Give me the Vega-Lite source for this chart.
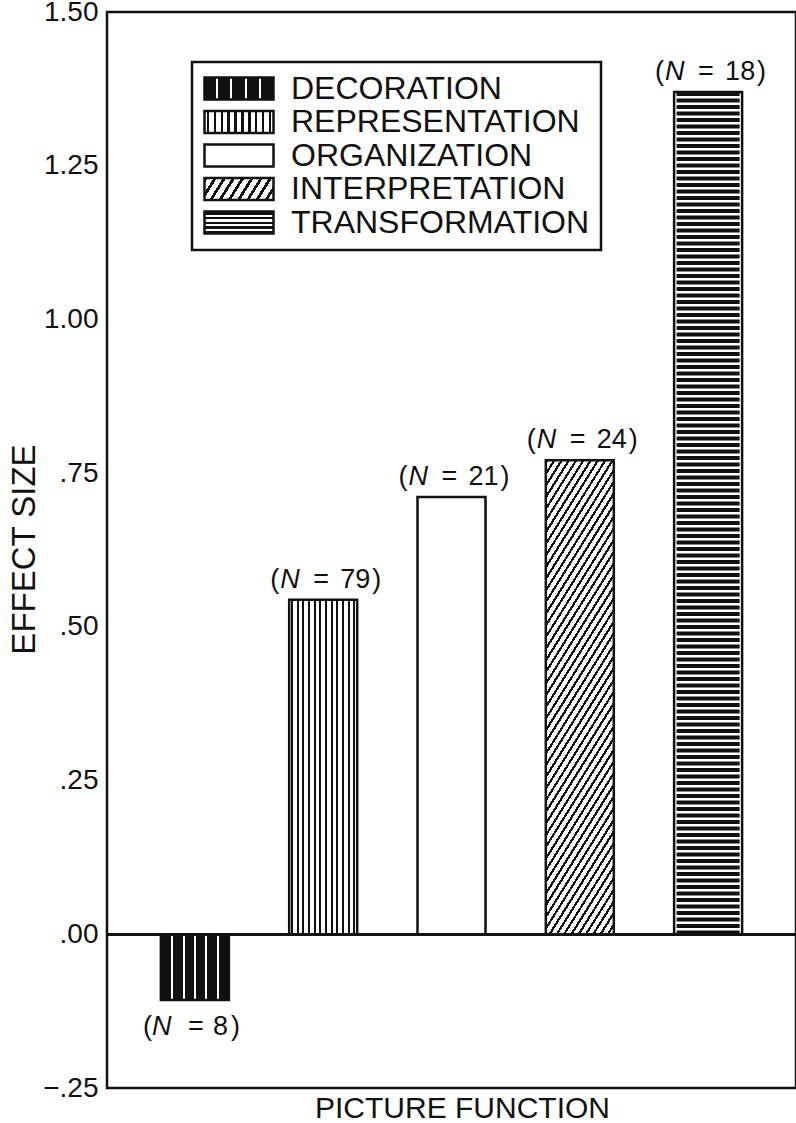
{
  "$schema": "https://vega.github.io/schema/vega-lite/v6.json",
  "width": 689,
  "height": 1076,
  "autosize": {"type": "none"},
  "padding": {"left": 107, "top": 12, "right": 0, "bottom": 35},
  "background": "white",
  "config": {"view": {"stroke": "#111", "strokeWidth": 2.5}, "font": "Liberation Sans", "legend": {"strokeWidth": 2.5}},
  "data": {"values": [
    {"function": "DECORATION", "effect": -0.107, "n": 8},
    {"function": "REPRESENTATION", "effect": 0.544, "n": 79},
    {"function": "ORGANIZATION", "effect": 0.711, "n": 21},
    {"function": "INTERPRETATION", "effect": 0.771, "n": 24},
    {"function": "TRANSFORMATION", "effect": 1.37, "n": 18}
  ]},
  "layer": [
    {
      "encoding": {
        "x": {"field": "function", "type": "nominal",
          "scale": {"domain": ["DECORATION", "REPRESENTATION", "ORGANIZATION", "INTERPRETATION", "TRANSFORMATION"], "paddingInner": 0.47, "paddingOuter": 0.42},
          "axis": {"labels": false, "ticks": false, "domain": false, "title": "PICTURE FUNCTION", "titleFont": "Liberation Sans", "titleFontSize": 30, "titleFontWeight": "normal", "titleColor": "#111", "titlePadding": 5, "titleX": 355}},
        "y": {"field": "effect", "type": "quantitative",
          "scale": {"domain": [-0.25, 1.5], "nice": false, "zero": false},
          "axis": {"values": [-0.25, 0, 0.25, 0.5, 0.75, 1, 1.25, 1.5], "labelExpr": "datum.value >= 1 ? format(datum.value, '.2f') : replace(format(datum.value, '.2f'), '0.', '.')", "ticks": false, "domain": false, "grid": false, "labelPadding": 9, "labelFont": "Liberation Sans", "labelFontSize": 28, "labelColor": "#111", "labelFlush": false, "labelOverlap": false, "title": "EFFECT SIZE", "titleFont": "Liberation Sans", "titleFontSize": 33, "titleFontWeight": "normal", "titleColor": "#111", "titleAngle": -90, "titleX": -83, "titleY": 537, "titleAlign": "center", "titleBaseline": "middle"}}
      },
      "layer": [
        {"transform": [{"filter": "datum.function === 'DECORATION'"}],
         "mark": {"type": "bar", "stroke": "#111", "strokeWidth": 2.5, "fill": {"gradient": "linear", "x1": 0, "y1": 0, "x2": 1, "y2": 0, "stops": [
          {"offset": 0, "color": "#111"}, {"offset": 0.15, "color": "#111"}, {"offset": 0.15, "color": "#fff"}, {"offset": 0.18, "color": "#fff"}, {"offset": 0.18, "color": "#111"},
          {"offset": 0.32, "color": "#111"}, {"offset": 0.32, "color": "#fff"}, {"offset": 0.35, "color": "#fff"}, {"offset": 0.35, "color": "#111"},
          {"offset": 0.485, "color": "#111"}, {"offset": 0.485, "color": "#fff"}, {"offset": 0.515, "color": "#fff"}, {"offset": 0.515, "color": "#111"},
          {"offset": 0.65, "color": "#111"}, {"offset": 0.65, "color": "#fff"}, {"offset": 0.68, "color": "#fff"}, {"offset": 0.68, "color": "#111"},
          {"offset": 0.82, "color": "#111"}, {"offset": 0.82, "color": "#fff"}, {"offset": 0.85, "color": "#fff"}, {"offset": 0.85, "color": "#111"},
          {"offset": 1, "color": "#111"}]}}},
        {"transform": [{"filter": "datum.function === 'REPRESENTATION'"}],
         "mark": {"type": "bar", "stroke": "#111", "strokeWidth": 2.5, "fill": {"gradient": "linear", "x1": 0, "y1": 0, "x2": 1, "y2": 0, "stops": [
          {"offset": 0, "color": "#fff"},
          {"offset": 0.027, "color": "#fff"}, {"offset": 0.027, "color": "#111"}, {"offset": 0.057, "color": "#111"}, {"offset": 0.057, "color": "#fff"},
          {"offset": 0.11, "color": "#fff"}, {"offset": 0.11, "color": "#111"}, {"offset": 0.14, "color": "#111"}, {"offset": 0.14, "color": "#fff"},
          {"offset": 0.193, "color": "#fff"}, {"offset": 0.193, "color": "#111"}, {"offset": 0.223, "color": "#111"}, {"offset": 0.223, "color": "#fff"},
          {"offset": 0.277, "color": "#fff"}, {"offset": 0.277, "color": "#111"}, {"offset": 0.307, "color": "#111"}, {"offset": 0.307, "color": "#fff"},
          {"offset": 0.36, "color": "#fff"}, {"offset": 0.36, "color": "#111"}, {"offset": 0.39, "color": "#111"}, {"offset": 0.39, "color": "#fff"},
          {"offset": 0.443, "color": "#fff"}, {"offset": 0.443, "color": "#111"}, {"offset": 0.473, "color": "#111"}, {"offset": 0.473, "color": "#fff"},
          {"offset": 0.527, "color": "#fff"}, {"offset": 0.527, "color": "#111"}, {"offset": 0.557, "color": "#111"}, {"offset": 0.557, "color": "#fff"},
          {"offset": 0.61, "color": "#fff"}, {"offset": 0.61, "color": "#111"}, {"offset": 0.64, "color": "#111"}, {"offset": 0.64, "color": "#fff"},
          {"offset": 0.693, "color": "#fff"}, {"offset": 0.693, "color": "#111"}, {"offset": 0.723, "color": "#111"}, {"offset": 0.723, "color": "#fff"},
          {"offset": 0.777, "color": "#fff"}, {"offset": 0.777, "color": "#111"}, {"offset": 0.807, "color": "#111"}, {"offset": 0.807, "color": "#fff"},
          {"offset": 0.86, "color": "#fff"}, {"offset": 0.86, "color": "#111"}, {"offset": 0.89, "color": "#111"}, {"offset": 0.89, "color": "#fff"},
          {"offset": 0.943, "color": "#fff"}, {"offset": 0.943, "color": "#111"}, {"offset": 0.973, "color": "#111"}, {"offset": 0.973, "color": "#fff"},
          {"offset": 1, "color": "#fff"}]}}},
        {"transform": [{"filter": "datum.function === 'ORGANIZATION'"}],
         "mark": {"type": "bar", "stroke": "#111", "strokeWidth": 2.5, "fill": "white"}},
        {"transform": [{"filter": "datum.function === 'INTERPRETATION'"}],
         "mark": {"type": "bar", "stroke": "#111", "strokeWidth": 2.5, "fill": {"gradient": "linear", "x1": 0, "y1": 0, "x2": 0.268, "y2": 1.168, "stops": [
          {"offset": 0, "color": "#111"}, {"offset": 0.007, "color": "#111"}, {"offset": 0.007, "color": "#fff"}, {"offset": 0.02, "color": "#fff"},
          {"offset": 0.02, "color": "#111"}, {"offset": 0.027, "color": "#111"}, {"offset": 0.027, "color": "#fff"}, {"offset": 0.04, "color": "#fff"},
          {"offset": 0.04, "color": "#111"}, {"offset": 0.047, "color": "#111"}, {"offset": 0.047, "color": "#fff"}, {"offset": 0.06, "color": "#fff"},
          {"offset": 0.06, "color": "#111"}, {"offset": 0.067, "color": "#111"}, {"offset": 0.067, "color": "#fff"}, {"offset": 0.08, "color": "#fff"},
          {"offset": 0.08, "color": "#111"}, {"offset": 0.087, "color": "#111"}, {"offset": 0.087, "color": "#fff"}, {"offset": 0.1, "color": "#fff"},
          {"offset": 0.1, "color": "#111"}, {"offset": 0.107, "color": "#111"}, {"offset": 0.107, "color": "#fff"}, {"offset": 0.12, "color": "#fff"},
          {"offset": 0.12, "color": "#111"}, {"offset": 0.127, "color": "#111"}, {"offset": 0.127, "color": "#fff"}, {"offset": 0.14, "color": "#fff"},
          {"offset": 0.14, "color": "#111"}, {"offset": 0.147, "color": "#111"}, {"offset": 0.147, "color": "#fff"}, {"offset": 0.16, "color": "#fff"},
          {"offset": 0.16, "color": "#111"}, {"offset": 0.167, "color": "#111"}, {"offset": 0.167, "color": "#fff"}, {"offset": 0.18, "color": "#fff"},
          {"offset": 0.18, "color": "#111"}, {"offset": 0.187, "color": "#111"}, {"offset": 0.187, "color": "#fff"}, {"offset": 0.2, "color": "#fff"},
          {"offset": 0.2, "color": "#111"}, {"offset": 0.207, "color": "#111"}, {"offset": 0.207, "color": "#fff"}, {"offset": 0.22, "color": "#fff"},
          {"offset": 0.22, "color": "#111"}, {"offset": 0.227, "color": "#111"}, {"offset": 0.227, "color": "#fff"}, {"offset": 0.24, "color": "#fff"},
          {"offset": 0.24, "color": "#111"}, {"offset": 0.247, "color": "#111"}, {"offset": 0.247, "color": "#fff"}, {"offset": 0.26, "color": "#fff"},
          {"offset": 0.26, "color": "#111"}, {"offset": 0.267, "color": "#111"}, {"offset": 0.267, "color": "#fff"}, {"offset": 0.28, "color": "#fff"},
          {"offset": 0.28, "color": "#111"}, {"offset": 0.287, "color": "#111"}, {"offset": 0.287, "color": "#fff"}, {"offset": 0.3, "color": "#fff"},
          {"offset": 0.3, "color": "#111"}, {"offset": 0.307, "color": "#111"}, {"offset": 0.307, "color": "#fff"}, {"offset": 0.32, "color": "#fff"},
          {"offset": 0.32, "color": "#111"}, {"offset": 0.327, "color": "#111"}, {"offset": 0.327, "color": "#fff"}, {"offset": 0.34, "color": "#fff"},
          {"offset": 0.34, "color": "#111"}, {"offset": 0.347, "color": "#111"}, {"offset": 0.347, "color": "#fff"}, {"offset": 0.36, "color": "#fff"},
          {"offset": 0.36, "color": "#111"}, {"offset": 0.367, "color": "#111"}, {"offset": 0.367, "color": "#fff"}, {"offset": 0.38, "color": "#fff"},
          {"offset": 0.38, "color": "#111"}, {"offset": 0.387, "color": "#111"}, {"offset": 0.387, "color": "#fff"}, {"offset": 0.4, "color": "#fff"},
          {"offset": 0.4, "color": "#111"}, {"offset": 0.407, "color": "#111"}, {"offset": 0.407, "color": "#fff"}, {"offset": 0.42, "color": "#fff"},
          {"offset": 0.42, "color": "#111"}, {"offset": 0.427, "color": "#111"}, {"offset": 0.427, "color": "#fff"}, {"offset": 0.44, "color": "#fff"},
          {"offset": 0.44, "color": "#111"}, {"offset": 0.447, "color": "#111"}, {"offset": 0.447, "color": "#fff"}, {"offset": 0.46, "color": "#fff"},
          {"offset": 0.46, "color": "#111"}, {"offset": 0.467, "color": "#111"}, {"offset": 0.467, "color": "#fff"}, {"offset": 0.48, "color": "#fff"},
          {"offset": 0.48, "color": "#111"}, {"offset": 0.487, "color": "#111"}, {"offset": 0.487, "color": "#fff"}, {"offset": 0.5, "color": "#fff"},
          {"offset": 0.5, "color": "#111"}, {"offset": 0.507, "color": "#111"}, {"offset": 0.507, "color": "#fff"}, {"offset": 0.52, "color": "#fff"},
          {"offset": 0.52, "color": "#111"}, {"offset": 0.527, "color": "#111"}, {"offset": 0.527, "color": "#fff"}, {"offset": 0.54, "color": "#fff"},
          {"offset": 0.54, "color": "#111"}, {"offset": 0.547, "color": "#111"}, {"offset": 0.547, "color": "#fff"}, {"offset": 0.56, "color": "#fff"},
          {"offset": 0.56, "color": "#111"}, {"offset": 0.567, "color": "#111"}, {"offset": 0.567, "color": "#fff"}, {"offset": 0.58, "color": "#fff"},
          {"offset": 0.58, "color": "#111"}, {"offset": 0.587, "color": "#111"}, {"offset": 0.587, "color": "#fff"}, {"offset": 0.6, "color": "#fff"},
          {"offset": 0.6, "color": "#111"}, {"offset": 0.607, "color": "#111"}, {"offset": 0.607, "color": "#fff"}, {"offset": 0.62, "color": "#fff"},
          {"offset": 0.62, "color": "#111"}, {"offset": 0.627, "color": "#111"}, {"offset": 0.627, "color": "#fff"}, {"offset": 0.64, "color": "#fff"},
          {"offset": 0.64, "color": "#111"}, {"offset": 0.647, "color": "#111"}, {"offset": 0.647, "color": "#fff"}, {"offset": 0.66, "color": "#fff"},
          {"offset": 0.66, "color": "#111"}, {"offset": 0.667, "color": "#111"}, {"offset": 0.667, "color": "#fff"}, {"offset": 0.68, "color": "#fff"},
          {"offset": 0.68, "color": "#111"}, {"offset": 0.687, "color": "#111"}, {"offset": 0.687, "color": "#fff"}, {"offset": 0.7, "color": "#fff"},
          {"offset": 0.7, "color": "#111"}, {"offset": 0.707, "color": "#111"}, {"offset": 0.707, "color": "#fff"}, {"offset": 0.72, "color": "#fff"},
          {"offset": 0.72, "color": "#111"}, {"offset": 0.727, "color": "#111"}, {"offset": 0.727, "color": "#fff"}, {"offset": 0.74, "color": "#fff"},
          {"offset": 0.74, "color": "#111"}, {"offset": 0.747, "color": "#111"}, {"offset": 0.747, "color": "#fff"}, {"offset": 0.76, "color": "#fff"},
          {"offset": 0.76, "color": "#111"}, {"offset": 0.767, "color": "#111"}, {"offset": 0.767, "color": "#fff"}, {"offset": 0.78, "color": "#fff"},
          {"offset": 0.78, "color": "#111"}, {"offset": 0.787, "color": "#111"}, {"offset": 0.787, "color": "#fff"}, {"offset": 0.8, "color": "#fff"},
          {"offset": 0.8, "color": "#111"}, {"offset": 0.807, "color": "#111"}, {"offset": 0.807, "color": "#fff"}, {"offset": 0.82, "color": "#fff"},
          {"offset": 0.82, "color": "#111"}, {"offset": 0.827, "color": "#111"}, {"offset": 0.827, "color": "#fff"}, {"offset": 0.84, "color": "#fff"},
          {"offset": 0.84, "color": "#111"}, {"offset": 0.847, "color": "#111"}, {"offset": 0.847, "color": "#fff"}, {"offset": 0.86, "color": "#fff"},
          {"offset": 0.86, "color": "#111"}, {"offset": 0.867, "color": "#111"}, {"offset": 0.867, "color": "#fff"}, {"offset": 0.88, "color": "#fff"},
          {"offset": 0.88, "color": "#111"}, {"offset": 0.887, "color": "#111"}, {"offset": 0.887, "color": "#fff"}, {"offset": 0.9, "color": "#fff"},
          {"offset": 0.9, "color": "#111"}, {"offset": 0.907, "color": "#111"}, {"offset": 0.907, "color": "#fff"}, {"offset": 0.92, "color": "#fff"},
          {"offset": 0.92, "color": "#111"}, {"offset": 0.927, "color": "#111"}, {"offset": 0.927, "color": "#fff"}, {"offset": 0.94, "color": "#fff"},
          {"offset": 0.94, "color": "#111"}, {"offset": 0.947, "color": "#111"}, {"offset": 0.947, "color": "#fff"}, {"offset": 0.96, "color": "#fff"},
          {"offset": 0.96, "color": "#111"}, {"offset": 0.967, "color": "#111"}, {"offset": 0.967, "color": "#fff"}, {"offset": 0.98, "color": "#fff"},
          {"offset": 0.98, "color": "#111"}, {"offset": 0.987, "color": "#111"}, {"offset": 0.987, "color": "#fff"}, {"offset": 1, "color": "#fff"}]}}},
        {"transform": [{"filter": "datum.function === 'TRANSFORMATION'"}],
         "mark": {"type": "bar", "stroke": "#111", "strokeWidth": 2.5, "fill": "white"}},
        {"transform": [{"filter": "datum.function === 'TRANSFORMATION'"}],
         "mark": {"type": "rule", "color": "#111", "strokeWidth": 63, "strokeDash": [4, 2.5]},
         "encoding": {"y2": {"datum": 0}}},
        {"mark": {"type": "point", "filled": true, "opacity": 0},
         "encoding": {"fill": {"field": "function", "type": "nominal",
           "scale": {"domain": ["DECORATION", "REPRESENTATION", "ORGANIZATION", "INTERPRETATION", "TRANSFORMATION"], "range": [
             {"expr": "{gradient: 'linear', x1: 0, y1: 0, x2: 1, y2: 0, stops: [{offset: 0, color: '#111'}, {offset: 0.17, color: '#111'}, {offset: 0.17, color: '#fff'}, {offset: 0.2, color: '#fff'}, {offset: 0.2, color: '#111'}, {offset: 0.37, color: '#111'}, {offset: 0.37, color: '#fff'}, {offset: 0.4, color: '#fff'}, {offset: 0.4, color: '#111'}, {offset: 0.58, color: '#111'}, {offset: 0.58, color: '#fff'}, {offset: 0.61, color: '#fff'}, {offset: 0.61, color: '#111'}, {offset: 0.79, color: '#111'}, {offset: 0.79, color: '#fff'}, {offset: 0.82, color: '#fff'}, {offset: 0.82, color: '#111'}, {offset: 1, color: '#111'}]}"},
             {"expr": "{gradient: 'linear', x1: 0, y1: 0, x2: 1, y2: 0, stops: [{offset: 0, color: '#fff'}, {offset: 0.033, color: '#fff'}, {offset: 0.033, color: '#111'}, {offset: 0.067, color: '#111'}, {offset: 0.067, color: '#fff'}, {offset: 0.133, color: '#fff'}, {offset: 0.133, color: '#111'}, {offset: 0.167, color: '#111'}, {offset: 0.167, color: '#fff'}, {offset: 0.233, color: '#fff'}, {offset: 0.233, color: '#111'}, {offset: 0.267, color: '#111'}, {offset: 0.267, color: '#fff'}, {offset: 0.333, color: '#fff'}, {offset: 0.333, color: '#111'}, {offset: 0.367, color: '#111'}, {offset: 0.367, color: '#fff'}, {offset: 0.433, color: '#fff'}, {offset: 0.433, color: '#111'}, {offset: 0.467, color: '#111'}, {offset: 0.467, color: '#fff'}, {offset: 0.533, color: '#fff'}, {offset: 0.533, color: '#111'}, {offset: 0.567, color: '#111'}, {offset: 0.567, color: '#fff'}, {offset: 0.633, color: '#fff'}, {offset: 0.633, color: '#111'}, {offset: 0.667, color: '#111'}, {offset: 0.667, color: '#fff'}, {offset: 0.733, color: '#fff'}, {offset: 0.733, color: '#111'}, {offset: 0.767, color: '#111'}, {offset: 0.767, color: '#fff'}, {offset: 0.833, color: '#fff'}, {offset: 0.833, color: '#111'}, {offset: 0.867, color: '#111'}, {offset: 0.867, color: '#fff'}, {offset: 0.933, color: '#fff'}, {offset: 0.933, color: '#111'}, {offset: 0.967, color: '#111'}, {offset: 0.967, color: '#fff'}, {offset: 1, color: '#fff'}]}"},
             "#ffffff",
             {"expr": "{gradient: 'linear', x1: 0, y1: 0, x2: 1.154, y2: 0.231, stops: [{offset: 0, color: '#111'}, {offset: 0.04, color: '#111'}, {offset: 0.04, color: '#fff'}, {offset: 0.111, color: '#fff'}, {offset: 0.111, color: '#111'}, {offset: 0.151, color: '#111'}, {offset: 0.151, color: '#fff'}, {offset: 0.222, color: '#fff'}, {offset: 0.222, color: '#111'}, {offset: 0.262, color: '#111'}, {offset: 0.262, color: '#fff'}, {offset: 0.333, color: '#fff'}, {offset: 0.333, color: '#111'}, {offset: 0.373, color: '#111'}, {offset: 0.373, color: '#fff'}, {offset: 0.444, color: '#fff'}, {offset: 0.444, color: '#111'}, {offset: 0.484, color: '#111'}, {offset: 0.484, color: '#fff'}, {offset: 0.556, color: '#fff'}, {offset: 0.556, color: '#111'}, {offset: 0.596, color: '#111'}, {offset: 0.596, color: '#fff'}, {offset: 0.667, color: '#fff'}, {offset: 0.667, color: '#111'}, {offset: 0.707, color: '#111'}, {offset: 0.707, color: '#fff'}, {offset: 0.778, color: '#fff'}, {offset: 0.778, color: '#111'}, {offset: 0.818, color: '#111'}, {offset: 0.818, color: '#fff'}, {offset: 0.889, color: '#fff'}, {offset: 0.889, color: '#111'}, {offset: 0.929, color: '#111'}, {offset: 0.929, color: '#fff'}, {offset: 1, color: '#fff'}]}"},
             {"expr": "{gradient: 'linear', x1: 0, y1: 0, x2: 0, y2: 1, stops: [{offset: 0, color: '#111'}, {offset: 0.14, color: '#111'}, {offset: 0.14, color: '#fff'}, {offset: 0.24, color: '#fff'}, {offset: 0.24, color: '#111'}, {offset: 0.36, color: '#111'}, {offset: 0.36, color: '#fff'}, {offset: 0.46, color: '#fff'}, {offset: 0.46, color: '#111'}, {offset: 0.58, color: '#111'}, {offset: 0.58, color: '#fff'}, {offset: 0.68, color: '#fff'}, {offset: 0.68, color: '#111'}, {offset: 0.8, color: '#111'}, {offset: 0.8, color: '#fff'}, {offset: 0.88, color: '#fff'}, {offset: 0.88, color: '#111'}, {offset: 1, color: '#111'}]}"}
           ]},
           "legend": {"title": null, "orient": "none", "legendX": 85, "legendY": 50,
             "symbolType": "M-1,-0.32H1V0.32H-1Z", "symbolSize": 4761, "symbolOpacity": 1,
             "symbolStrokeColor": "#111", "symbolStrokeWidth": 2.5,
             "labelFont": "Liberation Sans", "labelFontSize": 32, "labelColor": "#111", "labelOffset": 16, "labelLimit": 0,
             "clipHeight": 31, "rowPadding": 0.5, "padding": 11, "strokeColor": "#111", "fillColor": "white"}}}},
        {"transform": [{"filter": "datum.effect > 0"}],
         "mark": {"type": "text", "text": "(", "align": "right", "baseline": "alphabetic", "dx": -44, "dy": -12, "font": "Liberation Sans", "fontSize": 27, "color": "#111"}},
        {"transform": [{"filter": "datum.effect > 0"}],
         "mark": {"type": "text", "text": "N", "fontStyle": "italic", "align": "left", "baseline": "alphabetic", "dx": -43, "dy": -12, "font": "Liberation Sans", "fontSize": 27, "color": "#111"}},
        {"transform": [{"filter": "datum.effect > 0"}],
         "mark": {"type": "text", "text": "=", "align": "left", "baseline": "alphabetic", "dx": -10, "dy": -12, "font": "Liberation Sans", "fontSize": 27, "color": "#111"}},
        {"transform": [{"filter": "datum.effect > 0"}],
         "mark": {"type": "text", "align": "left", "baseline": "alphabetic", "dx": 17, "dy": -12, "font": "Liberation Sans", "fontSize": 27, "color": "#111"},
         "encoding": {"text": {"field": "n", "type": "quantitative", "format": "d"}}},
        {"transform": [{"filter": "datum.effect > 0"}],
         "mark": {"type": "text", "text": ")", "align": "left", "baseline": "alphabetic", "dx": 49, "dy": -12, "font": "Liberation Sans", "fontSize": 27, "color": "#111"}},
        {"transform": [{"filter": "datum.effect < 0"}],
         "mark": {"type": "text", "text": "(", "align": "right", "baseline": "alphabetic", "dx": -43, "dy": 35, "font": "Liberation Sans", "fontSize": 27, "color": "#111"}},
        {"transform": [{"filter": "datum.effect < 0"}],
         "mark": {"type": "text", "text": "N", "fontStyle": "italic", "align": "left", "baseline": "alphabetic", "dx": -43, "dy": 35, "font": "Liberation Sans", "fontSize": 27, "color": "#111"}},
        {"transform": [{"filter": "datum.effect < 0"}],
         "mark": {"type": "text", "text": "=", "align": "left", "baseline": "alphabetic", "dx": -7, "dy": 35, "font": "Liberation Sans", "fontSize": 27, "color": "#111"}},
        {"transform": [{"filter": "datum.effect < 0"}],
         "mark": {"type": "text", "align": "left", "baseline": "alphabetic", "dx": 18, "dy": 35, "font": "Liberation Sans", "fontSize": 27, "color": "#111"},
         "encoding": {"text": {"field": "n", "type": "quantitative", "format": "d"}}},
        {"transform": [{"filter": "datum.effect < 0"}],
         "mark": {"type": "text", "text": ")", "align": "left", "baseline": "alphabetic", "dx": 36, "dy": 35, "font": "Liberation Sans", "fontSize": 27, "color": "#111"}}
      ]
    },
    {"mark": {"type": "rule", "color": "#111", "strokeWidth": 2.5}, "encoding": {"y": {"datum": 0}}}
  ]
}
